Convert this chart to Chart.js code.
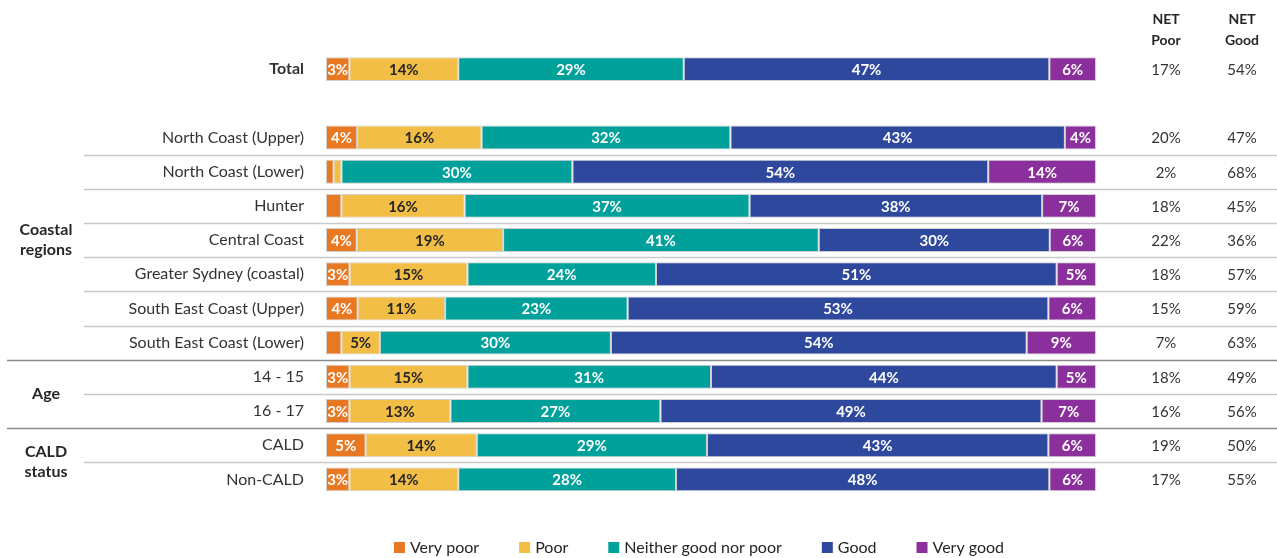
<!DOCTYPE html>
<html>
<head>
<meta charset="utf-8">
<title>Rating by region, age and CALD status</title>
<script src="https://cdn.jsdelivr.net/npm/chart.js@4.4.1/dist/chart.umd.min.js"></script>
<style>
  html, body { margin: 0; padding: 0; background: #fff; }
  #wrap { width: 1277px; height: 558px; position: relative; }
</style>
</head>
<body>
<div id="wrap"><canvas id="ratingChart"></canvas></div>
<script>
const categories = ['Total', '', 'North Coast (Upper)', 'North Coast (Lower)', 'Hunter', 'Central Coast',
  'Greater Sydney (coastal)', 'South East Coast (Upper)', 'South East Coast (Lower)',
  '14 - 15', '16 - 17', 'CALD', 'Non-CALD'];
const seriesNames = ['Very poor', 'Poor', 'Neither good nor poor', 'Good', 'Very good'];
const veryPoor = [3, null, 4, 1, 2, 4, 3, 4, 2, 3, 3, 5, 3];
const poor     = [14, null, 16, 1, 16, 19, 15, 11, 5, 15, 13, 14, 14];
const neither  = [29, null, 32, 30, 37, 41, 24, 23, 30, 31, 27, 29, 28];
const good     = [47, null, 43, 54, 38, 30, 51, 53, 54, 44, 49, 43, 48];
const veryGood = [6, null, 4, 14, 7, 6, 5, 6, 9, 5, 7, 6, 6];
const netPoor  = [17, null, 20, 2, 18, 22, 18, 15, 7, 18, 16, 19, 17];
const netGood  = [54, null, 47, 68, 45, 36, 57, 59, 63, 49, 56, 50, 55];
const groups = [
  { lines: ['Coastal', 'regions'], from: 2, to: 8 },
  { lines: ['Age'], from: 9, to: 10 },
  { lines: ['CALD', 'status'], from: 11, to: 12 }
];
const groupBreaks = [8, 10];

const colors = ['#E97822', '#F2BE46', '#00A19A', '#2E489D', '#8A2F9B'];
const labelColors = ['#ffffff', '#262626', '#ffffff', '#ffffff', '#ffffff'];
const series = [veryPoor, poor, neither, good, veryGood];
const FONT = 'Lato, "Open Sans", sans-serif';

// 100% stacked: each row is scaled to its own total
const rowTotal = categories.map((c, i) => series.reduce((s, arr) => s + (arr[i] || 0), 0));
const share = (v, i) => v == null ? null : v / rowTotal[i] * 100;

const datasets = series.map((arr, k) => ({
  label: seriesNames[k],
  data: arr.map(share),
  raw: arr,
  backgroundColor: colors[k],
  borderColor: 'rgba(120,120,120,0.35)',
  borderWidth: 1,
  borderSkipped: false,
  barPercentage: 0.7,
  categoryPercentage: 1
}));

const extras = {
  id: 'extras',
  beforeDatasetsDraw(chart) {
    const ctx = chart.ctx;
    const y = chart.scales.y;
    ctx.save();
    for (let i = 2; i < categories.length - 1; i++) {
      const yy = Math.round((y.getPixelForValue(i) + y.getPixelForValue(i + 1)) / 2) + 0.5;
      const isBreak = groupBreaks.includes(i);
      ctx.strokeStyle = isBreak ? '#8a8a8a' : '#c9c9c9';
      ctx.lineWidth = isBreak ? 1.6 : 1.4;
      ctx.beginPath();
      ctx.moveTo(isBreak ? 7 : 84, yy);
      ctx.lineTo(1277, yy);
      ctx.stroke();
    }
    ctx.restore();
  },
  afterDatasetsDraw(chart) {
    const ctx = chart.ctx;
    const y = chart.scales.y;
    ctx.save();
    // segment values
    ctx.font = 'bold 15px ' + FONT;
    ctx.textAlign = 'center';
    ctx.textBaseline = 'middle';
    chart.data.datasets.forEach((ds, k) => {
      chart.getDatasetMeta(k).data.forEach((bar, i) => {
        const v = ds.raw[i];
        if (v == null || v < 3) return;
        ctx.fillStyle = labelColors[k];
        ctx.fillText(v + '%', (bar.x + bar.base) / 2, bar.y + 1);
      });
    });

    // group labels
    ctx.fillStyle = '#262626';
    ctx.font = 'bold 16px ' + FONT;
    groups.forEach(g => {
      const mid = (y.getPixelForValue(g.from) + y.getPixelForValue(g.to)) / 2;
      const start = mid - (g.lines.length - 1) * 10;
      g.lines.forEach((t, j) => ctx.fillText(t, 46, start + j * 20));
    });

    // NET columns
    ctx.font = 'bold 14px ' + FONT;
    ctx.fillText('NET', 1166, 19);
    ctx.fillText('Poor', 1166, 40);
    ctx.fillText('NET', 1242, 19);
    ctx.fillText('Good', 1242, 40);
    ctx.font = '15px ' + FONT;
    ctx.fillStyle = '#333333';
    categories.forEach((c, i) => {
      if (netPoor[i] == null) return;
      const yy = y.getPixelForValue(i) + 1;
      ctx.fillText(netPoor[i] + '%', 1166, yy);
      ctx.fillText(netGood[i] + '%', 1242, yy);
    });

    // legend
    ctx.font = '16px ' + FONT;
    ctx.textAlign = 'left';
    const gap = 40, box = 11;
    const widths = seriesNames.map(n => box + 5 + ctx.measureText(n).width);
    const total = widths.reduce((a, b) => a + b, 0) + gap * (widths.length - 1);
    let x = 699 - total / 2;
    seriesNames.forEach((n, k) => {
      ctx.fillStyle = colors[k];
      ctx.fillRect(x, 542, box, box);
      ctx.fillStyle = '#262626';
      ctx.fillText(n, x + box + 5, 548);
      x += widths[k] + gap;
    });
    ctx.restore();
  }
};

new Chart(document.getElementById('ratingChart'), {
  type: 'bar',
  data: { labels: categories, datasets: datasets },
  options: {
    indexAxis: 'y',
    responsive: true,
    maintainAspectRatio: false,
    animation: false,
    layout: { padding: { left: 0, right: 181, top: 52, bottom: 61.5 } },
    plugins: { legend: { display: false }, tooltip: { enabled: false } },
    scales: {
      x: { stacked: true, min: 0, max: 100, display: false },
      y: {
        stacked: true,
        grid: { display: false, drawTicks: false },
        border: { display: false },
        afterFit(scale) { scale.width = 326; },
        ticks: {
          padding: 22,
          color: '#333333',
          font: c => ({ family: FONT, size: 16, weight: c.index === 0 ? 'bold' : 'normal' })
        }
      }
    }
  },
  plugins: [extras]
});
</script>
</body>
</html>
